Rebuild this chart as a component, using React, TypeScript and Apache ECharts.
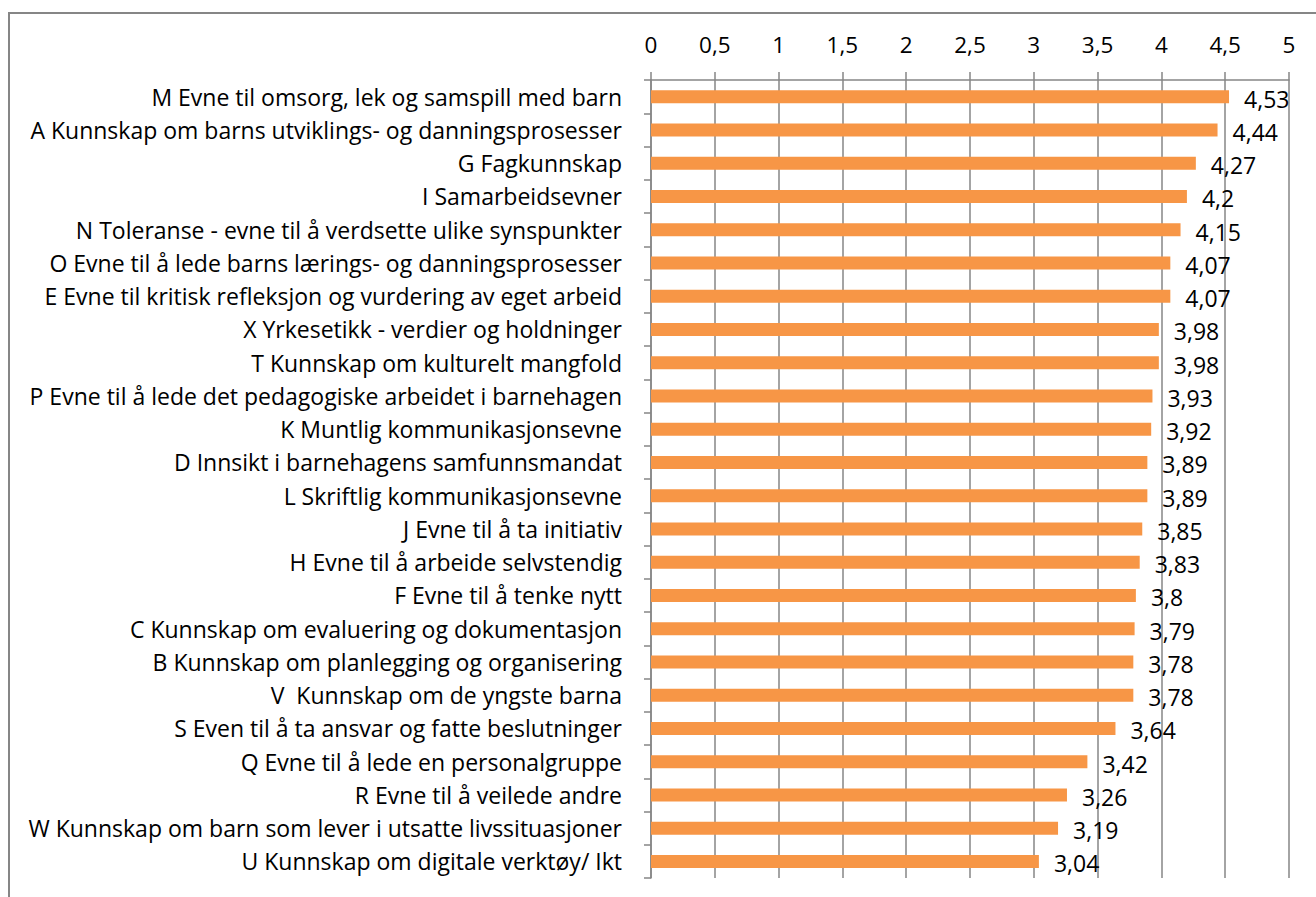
import React, { useEffect, useRef } from "react";
import * as echarts from "echarts";

const categories = [
  "M Evne til omsorg, lek og samspill med barn",
  "A Kunnskap om barns utviklings- og danningsprosesser",
  "G Fagkunnskap",
  "I Samarbeidsevner",
  "N Toleranse - evne til å verdsette ulike synspunkter",
  "O Evne til å lede barns lærings- og danningsprosesser",
  "E Evne til kritisk refleksjon og vurdering av eget arbeid",
  "X Yrkesetikk - verdier og holdninger",
  "T Kunnskap om kulturelt mangfold",
  "P Evne til å lede det pedagogiske arbeidet i barnehagen",
  "K Muntlig kommunikasjonsevne",
  "D Innsikt i barnehagens samfunnsmandat",
  "L Skriftlig kommunikasjonsevne",
  "J Evne til å ta initiativ",
  "H Evne til å arbeide selvstendig",
  "F Evne til å tenke nytt",
  "C Kunnskap om evaluering og dokumentasjon",
  "B Kunnskap om planlegging og organisering",
  "V\u00a0 Kunnskap om de yngste barna",
  "S Even til å ta ansvar og fatte beslutninger",
  "Q Evne til å lede en personalgruppe",
  "R Evne til å veilede andre",
  "W Kunnskap om barn som lever i utsatte livssituasjoner",
  "U Kunnskap om digitale verktøy/ Ikt",
];

const values = [
  4.53, 4.44, 4.27, 4.2, 4.15, 4.07, 4.07, 3.98, 3.98, 3.93, 3.92, 3.89, 3.89,
  3.85, 3.83, 3.8, 3.79, 3.78, 3.78, 3.64, 3.42, 3.26, 3.19, 3.04,
];

const axisMin = 0;
const axisMax = 5;
const axisStep = 0.5;

const FONT = "'Open Sans', sans-serif";
const GRAY = "#868686";

const fmt = (v: number) => String(v).replace(".", ",");

export default function App() {
  const ref = useRef<HTMLDivElement>(null);
  useEffect(() => {
    if (!ref.current) return;
    const chart = echarts.init(ref.current, undefined, { renderer: "svg" });
    chart.setOption({
      animation: false,
      backgroundColor: "#ffffff",
      graphic: [
        {
          type: "rect",
          shape: { x: 9, y: 13, width: 1400, height: 1000 },
          style: { fill: "none", stroke: GRAY, lineWidth: 2 },
          silent: true,
        },
      ],
      grid: { left: 651, right: 27, top: 80, bottom: 19, containLabel: false },
      xAxis: {
        type: "value",
        position: "top",
        min: axisMin,
        max: axisMax,
        interval: axisStep,
        axisLine: { show: true, lineStyle: { color: GRAY, width: 1.5 } },
        axisTick: { show: true, length: 8, lineStyle: { color: GRAY, width: 1.5 } },
        splitLine: { show: true, lineStyle: { color: GRAY, width: 1.5 } },
        axisLabel: {
          color: "#000",
          fontFamily: FONT,
          fontSize: 22.5,
          margin: 24,
          formatter: (v: number) => fmt(v),
        },
      },
      yAxis: {
        type: "category",
        inverse: true,
        data: categories,
        axisLine: { show: true, lineStyle: { color: GRAY, width: 1.5 } },
        axisTick: { show: true, length: 7, lineStyle: { color: GRAY, width: 1.5 } },
        axisLabel: {
          color: "#000",
          fontFamily: FONT,
          fontSize: 23,
          margin: 29,
        },
      },
      series: [
        {
          type: "bar",
          data: values,
          barWidth: 13,
          itemStyle: { color: "#F79646" },
          label: {
            show: true,
            position: "right",
            distance: 15,
            color: "#000",
            fontFamily: FONT,
            fontSize: 23,
            offset: [0, 2],
            formatter: (p: any) => fmt(p.value),
          },
        },
      ],
    });
    return () => chart.dispose();
  }, []);
  return (
    <div
      ref={ref}
      style={{ position: "absolute", left: 0, top: 0, width: 1316, height: 897 }}
    />
  );
}
